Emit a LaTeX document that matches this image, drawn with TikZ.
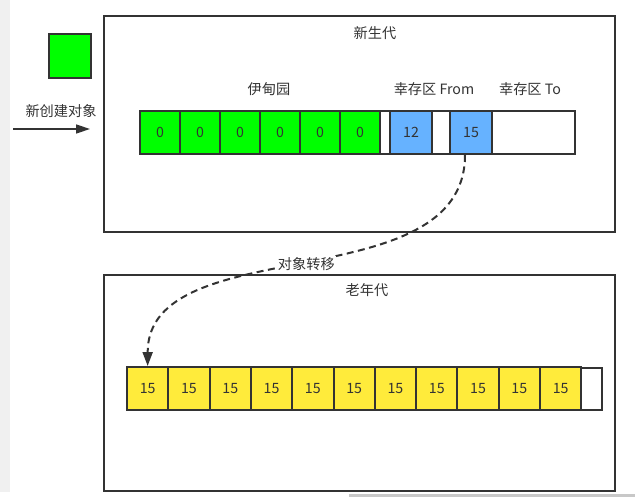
\documentclass[tikz,border=0pt]{standalone}
\usepackage{fontspec}
\setmainfont{Noto Sans CJK SC}
\usetikzlibrary{arrows.meta}
\definecolor{linegray}{HTML}{333333}
\definecolor{edengreen}{HTML}{00FF00}
\definecolor{survblue}{HTML}{66B2FF}
\definecolor{oldyellow}{HTML}{FFEB3B}
\definecolor{sidegray}{HTML}{F0F0F0}
\definecolor{bargray}{HTML}{C8C8C8}

\begin{document}
\begin{tikzpicture}[x=1pt,y=-1pt,
		font=\fontsize{14.2}{16}\selectfont,text=linegray,
		region/.style={draw=linegray,line width=2pt,minimum width=511pt,minimum height=216pt,inner sep=0pt},
		cell/.style={draw=linegray,line width=2pt,minimum height=43pt,inner sep=0pt},
		label/.style={inner sep=1pt}]
		\useasboundingbox (0,0) rectangle (635,497);
		\fill[sidegray] (0,0) rectangle (10,492);
		\fill[bargray] (349,494) rectangle (635,497);

		% new object
		\node[cell,fill=edengreen,minimum width=42pt,minimum height=44pt] (newobj) at (70,56) {};
		\coordinate (newstart) at (13,129);
		\coordinate (newend) at (90,129);
		\draw[linegray,line width=1.5pt,-{Triangle[length=14pt,width=9pt]}] (newstart) -- (newend);
		\node[label] (newtext) at (61,111) {新创建对象};

		% young generation
		\node[region] (young) at (359.5,124) {};
		\node[label] (youngtext) at (375,33) {新生代};
		\node[cell,minimum width=435pt] (strip) at (357.5,132.5) {};
		\foreach \i in {0,...,5}
			\node[cell,fill=edengreen,minimum width=40pt] (eden\i) at (160+40*\i,132.5) {0};
		\node[cell,fill=survblue,minimum width=42pt] (from12) at (411,132.5) {12};
		\node[cell,fill=survblue,minimum width=42pt] (from15) at (471,132.5) {15};
		\node[label] (edentext) at (269,89) {伊甸园};
		\node[label] (fromtext) at (434,89) {幸存区 From};
		\node[label] (totext) at (530,89) {幸存区 To};

		% old generation
		\node[region] (old) at (359.5,383) {};
		\node[label] (oldtext) at (367,290) {老年代};
		\foreach \i in {1,...,11}
			\node[cell,fill=oldyellow,minimum width=41.3pt] (old\i) at (127+41.3*\i-20.65,388.5) {15};
		\node[cell,minimum width=21pt,minimum height=42pt] (oldfree) at (591.5,388.5) {};

		% move
		\draw[linegray,line width=2pt,dash pattern=on 7pt off 4.5pt,-{Triangle[length=14pt,width=10pt]}]
			([xshift=-6pt]from15.south) .. controls +(0,146) and +(0,-137) .. (old1.north)
			node[pos=0.5,fill=white,label] (movetext) {对象转移};
\end{tikzpicture}
\end{document}
